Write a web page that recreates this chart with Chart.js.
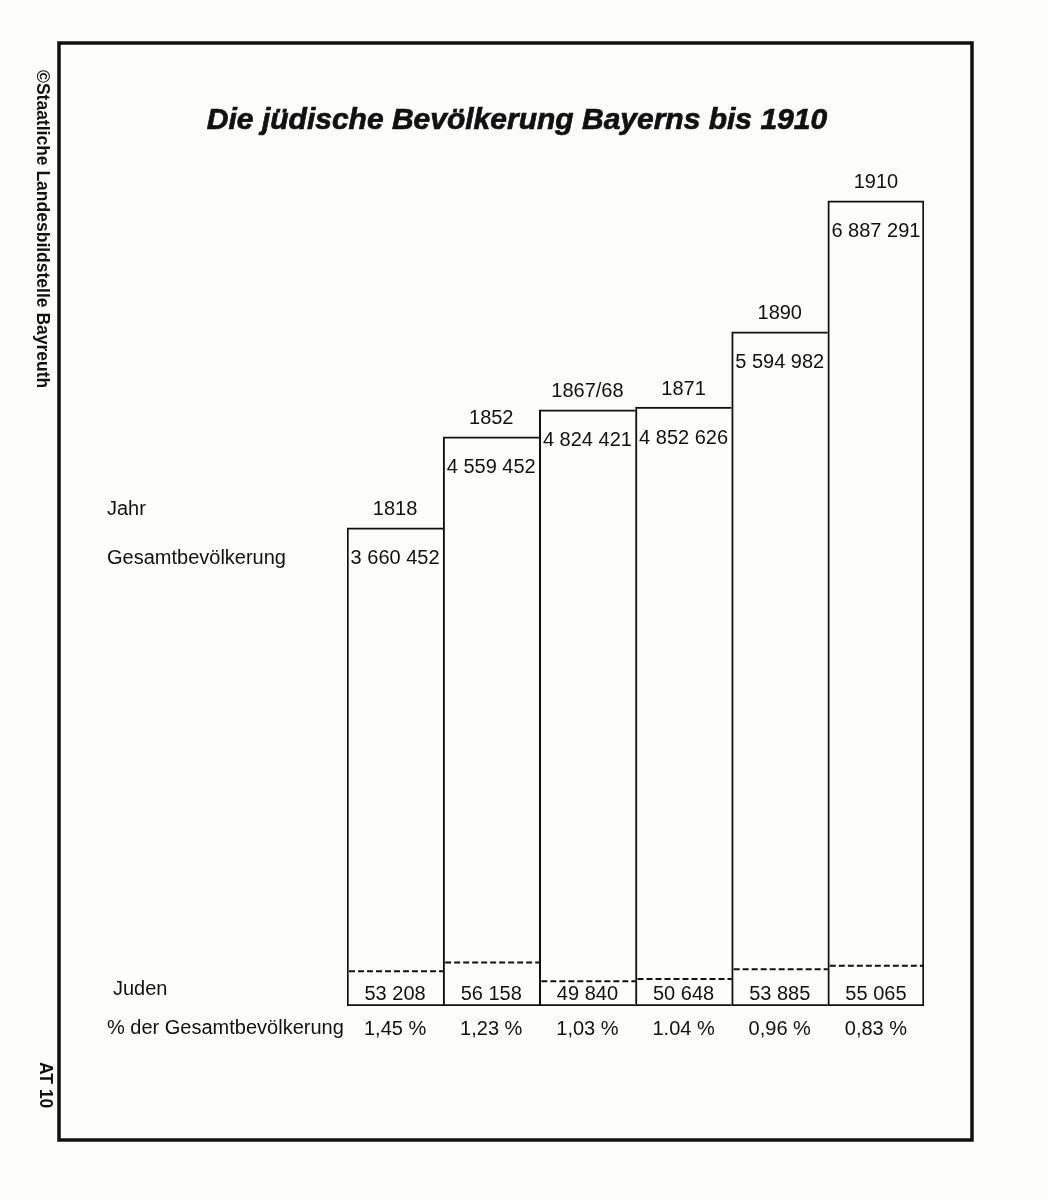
<!DOCTYPE html>
<html>
<head>
<meta charset="utf-8">
<script src="https://cdn.jsdelivr.net/npm/chart.js@4.4.1/dist/chart.umd.min.js"></script>
<style>
  html, body { margin: 0; padding: 0; background: #fcfcfa; }
  canvas { display: block; }
</style>
</head>
<body>
<canvas id="popChart" width="1048" height="1200"></canvas>
<script>
// Daten
const years = ['1818', '1852', '1867/68', '1871', '1890', '1910'];
const totalPop = [3660452, 4559452, 4824421, 4852626, 5594982, 6887291];
const jewishPop = [53208, 56158, 49840, 50648, 53885, 55065];
const pctLabels = ['1,45 %', '1,23 %', '1,03 %', '1.04 %', '0,96 %', '0,83 %'];

// Skalen (die Vorlage beginnt nicht bei 0)
const totalMin = -1060000, totalMax = 7291000;
const jewishMin = 41528, jewishMax = 326281;

const FONT = '"Liberation Sans", Arial, Helvetica, sans-serif';

function fmt(n) {
  return String(n).replace(/\B(?=(\d{3})+(?!\d))/g, ' ');
}

const decor = {
  id: 'decor',
  afterDraw(chart) {
    const ctx = chart.ctx;
    const area = chart.chartArea;
    const bars = chart.getDatasetMeta(0).data;
    const jbars = chart.getDatasetMeta(1).data;

    ctx.save();
    ctx.fillStyle = '#111';
    ctx.textAlign = 'center';
    ctx.textBaseline = 'middle';
    ctx.font = '20px ' + FONT;

    bars.forEach((el, i) => {
      ctx.fillText(years[i], el.x, el.y - 18);
      ctx.fillText(fmt(totalPop[i]), el.x, el.y + 31);
    });

    // gestrichelte Linie = Anteil Juden
    ctx.strokeStyle = '#111';
    ctx.lineWidth = 2;
    ctx.setLineDash([6, 3]);
    jbars.forEach((el, i) => {
      ctx.beginPath();
      ctx.moveTo(el.x - el.width / 2 + 2, el.y);
      ctx.lineTo(el.x + el.width / 2, el.y);
      ctx.stroke();
      ctx.fillText(fmt(jewishPop[i]), el.x, area.bottom - 12);
      ctx.fillText(pctLabels[i], el.x, area.bottom + 23);
    });
    ctx.setLineDash([]);

    // linke Beschriftungen
    ctx.textAlign = 'left';
    ctx.fillText('Jahr', 107, bars[0].y - 18);
    ctx.fillText('Gesamtbevölkerung', 107, bars[0].y + 31);
    ctx.fillText('Juden', 113, area.bottom - 17);
    ctx.fillText('% der Gesamtbevölkerung', 107, area.bottom + 22);

    // Titel
    ctx.textAlign = 'center';
    ctx.font = 'italic bold 30px ' + FONT;
    ctx.lineWidth = 0.7;
    ctx.fillText('Die jüdische Bevölkerung Bayerns bis 1910', 517, 121);
    ctx.strokeText('Die jüdische Bevölkerung Bayerns bis 1910', 517, 121);

    // Rahmen
    ctx.lineWidth = 3.5;
    ctx.strokeRect(59, 43, 913, 1097);

    // senkrechte Texte
    ctx.font = 'bold 17.5px ' + FONT;
    ctx.textAlign = 'left';
    ctx.save();
    ctx.translate(42, 70);
    ctx.rotate(Math.PI / 2);
    ctx.fillText('©Staatliche Landesbildstelle Bayreuth', 0, 0);
    ctx.restore();
    ctx.save();
    ctx.translate(45, 1062);
    ctx.rotate(Math.PI / 2);
    ctx.fillText('AT 10', 0, 0);
    ctx.restore();

    ctx.restore();
  }
};

new Chart(document.getElementById('popChart'), {
  type: 'bar',
  data: {
    labels: years,
    datasets: [
      {
        label: 'Gesamtbevölkerung',
        data: totalPop,
        yAxisID: 'y',
        base: totalMin,
        grouped: false,
        backgroundColor: '#fdfdfc',
        borderColor: '#111',
        borderSkipped: false,
        borderWidth: (c) => ({ left: 2, top: 2, bottom: 2, right: c.dataIndex === years.length - 1 ? 2 : 0 }),
        categoryPercentage: 1,
        barPercentage: 1
      },
      {
        label: 'Juden',
        data: jewishPop,
        yAxisID: 'y2',
        base: jewishMin,
        grouped: false,
        backgroundColor: 'rgba(0,0,0,0)',
        borderWidth: 0,
        categoryPercentage: 1,
        barPercentage: 1
      }
    ]
  },
  options: {
    responsive: false,
    animation: false,
    devicePixelRatio: 1,
    layout: { padding: { left: 347, right: 124, top: 160, bottom: 194 } },
    plugins: {
      legend: { display: false },
      tooltip: { enabled: false },
      title: { display: false }
    },
    scales: {
      x: { display: false },
      y: { display: false, min: totalMin, max: totalMax },
      y2: { display: false, min: jewishMin, max: jewishMax }
    }
  },
  plugins: [decor]
});
</script>
</body>
</html>
